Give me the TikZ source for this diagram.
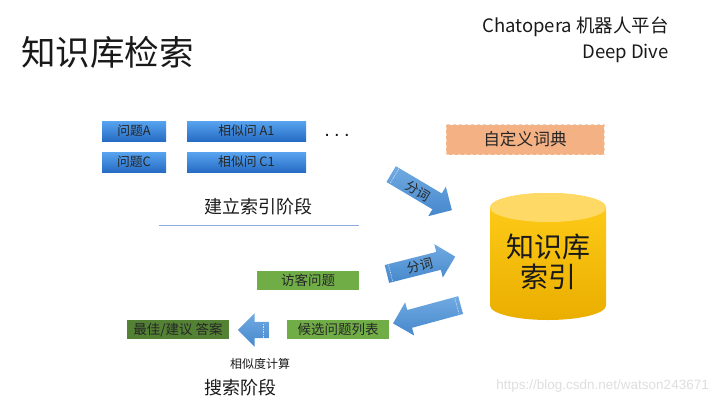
\documentclass[tikz,border=0pt]{standalone}
\usepackage{fontspec}
\setmainfont{Noto Sans CJK SC}
\newfontfamily\wmfont{Liberation Sans}
\usetikzlibrary{shapes.arrows,calc}
\definecolor{qblueT}{RGB}{88,164,240}
\definecolor{qblueB}{RGB}{38,108,196}
\definecolor{arrT}{RGB}{112,170,226}
\definecolor{arrB}{RGB}{70,136,204}
\definecolor{vgreen}{RGB}{112,173,71}
\definecolor{dgreen}{RGB}{84,130,53}
\definecolor{salmon}{RGB}{244,177,131}
\definecolor{salmonline}{RGB}{250,210,180}
\definecolor{cylT}{RGB}{255,205,25}
\definecolor{cylB}{RGB}{234,174,0}
\definecolor{cyltop}{RGB}{255,217,102}
\definecolor{rulec}{RGB}{143,170,220}
\begin{document}
\begin{tikzpicture}[x=1pt,y=1pt,
  qbox/.style={top color=qblueT,bottom color=qblueB,minimum height=20pt,inner sep=0pt,font=\fontsize{12.8}{14}\selectfont,text=black!85},
  gbox/.style={fill=vgreen,minimum height=19pt,minimum width=102pt,inner sep=0pt,font=\fontsize{13.5}{15}\selectfont,text=black!85},
  blockarrow/.style={single arrow,top color=arrT,bottom color=arrB,inner xsep=0pt,inner ysep=4.5pt,text height=9pt,text depth=0pt,single arrow head extend=8pt,anchor=tail},
  arrowlabel/.style={inner sep=0pt,font=\fontsize{13}{14}\selectfont,text=black!85},
  stripe/.style={white,opacity=0.7,dash pattern=on 1.5pt off 1pt,line width=0.6pt},
  plain/.style={inner sep=0pt,text=black!90}
  ]
\useasboundingbox (0,0) rectangle (716,-402);
% title and header
\node[plain,anchor=west,font=\fontsize{34.5}{40}\selectfont] (title) at (21,-52) {知识库检索};
\node[plain,anchor=east,font=\fontsize{18.5}{22}\selectfont] (h1) at (669,-27) {Chatopera 机器人平台};
\node[plain,anchor=east,font=\fontsize{18.5}{22}\selectfont] (h2) at (669,-53) {Deep Dive};
% index stage boxes
\node[qbox,minimum width=64pt] (qa) at (134,-131) {问题A};
\node[qbox,minimum width=119pt] (sa) at (246.5,-131) {相似问 A1};
\node[qbox,minimum width=64pt] (qc) at (134,-162) {问题C};
\node[qbox,minimum width=119pt] (sc) at (246.5,-162) {相似问 C1};
\node[plain,anchor=base,font=\wmfont\fontsize{20}{22}\selectfont] (dots) at (337,-136) {.\kern4.4pt.\kern4.4pt.};
\node[plain,font=\fontsize{18}{20}\selectfont] (stage1) at (258,-207) {建立索引阶段};
\draw[rulec,line width=0.8pt] (159,-225) -- (359,-225);
% dictionary
\node[fill=salmon,draw=salmonline,dashed,line width=0.8pt,minimum width=158pt,minimum height=30pt,inner sep=0pt,font=\fontsize{16.7}{18}\selectfont,text=black!85] (dict) at (525,-139.5) {自定义词典};
% cylinder
\shade[top color=cylT,bottom color=cylB] (490,-207.5) -- (490,-305.5) arc[start angle=180,end angle=360,x radius=58,y radius=14.5] -- (606,-207.5) arc[start angle=0,end angle=180,x radius=58,y radius=14.5] -- cycle;
\fill[cyltop] (548,-207.5) ellipse[x radius=58,y radius=14.5];
\node[plain,align=center,font=\fontsize{28}{30}\selectfont] (db) at (548,-262) {知识库\\索引};
% search stage
\node[gbox] (visitor) at (308,-280) {访客问题};
\node[gbox] (cand) at (338,-329.5) {候选问题列表};
\node[gbox,fill=dgreen] (best) at (178,-329.5) {最佳/建议 答案};
\node[plain,font=\fontsize{12}{14}\selectfont] (sim) at (260,-364) {相似度计算};
\node[plain,font=\fontsize{18}{20}\selectfont] (stage2) at (240,-388) {搜索阶段};
% block arrows
\node[blockarrow,minimum height=70.6pt,rotate=-30.7] (a1) at (391,-174) {};
\node[blockarrow,minimum height=70.5pt,rotate=14.2] (a2) at (386.7,-274) {};
\node[blockarrow,minimum height=70pt,rotate=195.2] (a3) at (460.8,-305) {};
\node[blockarrow,minimum height=31pt,inner ysep=3.5pt,single arrow head extend=8.5pt,rotate=180] (a4) at (269,-330) {};
\foreach \a/\d/\w in {a1/4pt/8.5pt,a2/4pt/8.5pt,a3/4pt/8.5pt,a4/6pt/7.5pt}{
  \coordinate (\a s) at ($(\a.tail)!\d!(\a.tip)$);
  \draw[stripe] ($(\a s)!\w!90:(\a.tip)$) -- ($(\a s)!\w!-90:(\a.tip)$);
}
\node[arrowlabel,rotate=-30.7] (l1) at (418,-191) {分词};
\node[arrowlabel,rotate=14.2] (l2) at (420,-266) {分词};
% watermark
\node[anchor=east,inner sep=0pt,text=black!13,font=\wmfont\fontsize{13.5}{15}\selectfont] (wm) at (709,-386) {https://blog.csdn.net/watson243671};
\end{tikzpicture}
\end{document}
